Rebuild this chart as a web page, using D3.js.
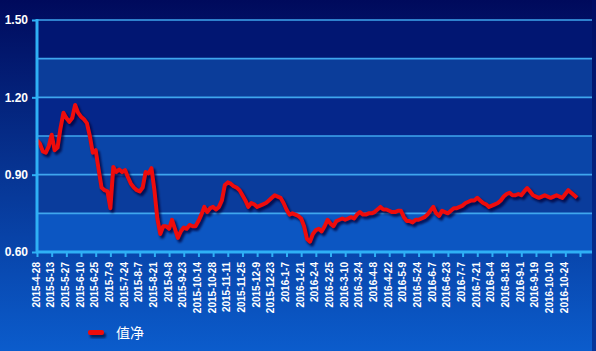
<!DOCTYPE html>
<html><head><meta charset="utf-8">
<script src="https://cdn.jsdelivr.net/npm/d3@7/dist/d3.min.js"></script>
<style>html,body{margin:0;padding:0;background:#00085a;}svg{display:block;}</style>
</head><body>
<svg id="chart" width="596" height="351"></svg>
<script>
// Tick labels (every 10 trading days)
const tickLabels = ["2015-4-28","2015-5-13","2015-5-27","2015-6-10","2015-6-25","2015-7-9","2015-7-24","2015-8-7","2015-8-21","2015-9-8","2015-9-23","2015-10-14","2015-10-28","2015-11-11","2015-11-25","2015-12-9","2015-12-23","2016-1-7","2016-1-21","2016-2-4","2016-2-25","2016-3-10","2016-3-24","2016-4-8","2016-4-22","2016-5-9","2016-5-24","2016-6-7","2016-6-23","2016-7-7","2016-7-21","2016-8-4","2016-8-18","2016-9-1","2016-9-19","2016-10-10","2016-10-24"];
// Net value, sampled every 2 trading days starting 2015-4-28
const navValues = [1.034,1.02,0.99,0.985,1.01,1.055,0.995,1.005,1.08,1.14,1.12,1.105,1.12,1.17,1.14,1.125,1.115,1.10,1.05,0.985,0.995,0.92,0.85,0.84,0.835,0.77,0.93,0.91,0.92,0.91,0.918,0.89,0.865,0.85,0.84,0.835,0.85,0.91,0.905,0.925,0.84,0.73,0.67,0.70,0.70,0.69,0.725,0.69,0.655,0.68,0.695,0.69,0.705,0.70,0.70,0.72,0.745,0.775,0.755,0.77,0.775,0.765,0.775,0.80,0.86,0.87,0.865,0.855,0.85,0.84,0.82,0.80,0.775,0.79,0.785,0.775,0.78,0.785,0.79,0.80,0.81,0.82,0.815,0.81,0.79,0.765,0.745,0.75,0.745,0.74,0.73,0.70,0.65,0.64,0.67,0.685,0.69,0.68,0.70,0.725,0.71,0.70,0.72,0.725,0.73,0.725,0.73,0.735,0.73,0.745,0.755,0.745,0.745,0.75,0.75,0.755,0.765,0.775,0.765,0.765,0.76,0.755,0.755,0.76,0.76,0.735,0.72,0.72,0.715,0.725,0.725,0.73,0.735,0.745,0.76,0.775,0.75,0.74,0.76,0.755,0.75,0.76,0.77,0.77,0.775,0.78,0.79,0.795,0.80,0.80,0.81,0.80,0.79,0.785,0.775,0.78,0.785,0.79,0.80,0.815,0.825,0.83,0.82,0.82,0.825,0.82,0.835,0.848,0.835,0.82,0.815,0.81,0.815,0.82,0.815,0.81,0.815,0.82,0.815,0.81,0.825,0.84,0.83,0.82,0.81];
const yTicks = [0.60, 0.90, 1.20, 1.50];
const yGrid = [0.60, 0.75, 0.90, 1.05, 1.20, 1.35, 1.50];
const seriesName = "值净";

(function () {
const svg = d3.select("#chart");
const W = 596, H = 351;
const pLeft = 37, pRight = 592, pTop = 20, pBottom = 252;

const defs = svg.append("defs");
const bg = defs.append("linearGradient").attr("id","bg").attr("x1",0).attr("y1",0).attr("x2",0).attr("y2",1);
bg.append("stop").attr("offset","0").attr("stop-color","#000a5c");
bg.append("stop").attr("offset","0.45").attr("stop-color","#06318e");
bg.append("stop").attr("offset","1").attr("stop-color","#0b5ccc");
const blur = defs.append("filter").attr("id","blur").attr("x","-10%").attr("y","-10%").attr("width","120%").attr("height","120%");
blur.append("feGaussianBlur").attr("stdDeviation",1.2);

svg.append("rect").attr("width",W).attr("height",H).attr("fill","url(#bg)");

const x = d3.scaleLinear().domain([0, 370]).range([pLeft, pLeft + 543]);
const y = d3.scaleLinear().domain([0.60, 1.50]).range([pBottom, pTop]);

// bands
const bandColors = ["#0c56c2","#0a3c9c","#0a45a8","#05268a","#0b3d9a","#011672"];
for (let i = 0; i < yGrid.length - 1; i++) {
  svg.append("rect").attr("x", pLeft).attr("width", pRight - pLeft)
    .attr("y", y(yGrid[i+1])).attr("height", y(yGrid[i]) - y(yGrid[i+1]))
    .attr("fill", bandColors[i]);
}
// grid
svg.append("g").selectAll("line").data(yGrid).join("line")
  .attr("x1", pLeft).attr("x2", pRight).attr("y1", d => y(d)).attr("y2", d => y(d))
  .attr("stroke", "#3fa6ee").attr("stroke-width", 1.6);

// right strip
svg.append("rect").attr("x", pRight).attr("y", 0).attr("width", W - pRight).attr("height", H).attr("fill","#00106a").attr("opacity",0.5);

// line
const pts = navValues.map((v, i) => [i * 2, v]);
const line = d3.line().x(d => x(d[0])).y(d => y(d[1]));
svg.append("path").datum(pts).attr("d", line).attr("fill","none")
  .attr("stroke","#000838").attr("stroke-opacity",0.75).attr("stroke-width",4.5)
  .attr("stroke-linejoin","round").attr("transform","translate(2,2.5)").attr("filter","url(#blur)");
svg.append("path").datum(pts).attr("d", line).attr("fill","none")
  .attr("stroke","#ee0c0c").attr("stroke-width",4).attr("stroke-linejoin","round");

// axes
const yAxis = d3.axisLeft(y).tickValues(yTicks).tickFormat(d3.format(".2f")).tickSize(5).tickPadding(4);
const gy = svg.append("g").attr("transform", `translate(${pLeft},0)`).call(yAxis);
gy.select(".domain").remove();
gy.selectAll(".tick line").attr("stroke","#2fb0f5").attr("stroke-width",2);
gy.selectAll(".tick text").attr("fill","#ffffff").attr("font-family","Liberation Sans, Arial, sans-serif")
  .attr("font-weight","bold").attr("font-size",12);

const xTickVals = tickLabels.map((d, i) => i * 10).concat([370]);
const xAxis = d3.axisBottom(x).tickValues(xTickVals)
  .tickFormat(d => tickLabels[d / 10] || "").tickSize(5).tickPadding(0);
const gx = svg.append("g").attr("transform", `translate(0,${pBottom})`).call(xAxis);
gx.select(".domain").remove();
gx.selectAll(".tick line").attr("stroke","#2fb0f5").attr("stroke-width",2);
gx.selectAll(".tick text").attr("fill","#ffffff").attr("font-family","Liberation Sans, Arial, sans-serif")
  .attr("font-weight","bold").attr("font-size",10)
  .attr("text-anchor","end").attr("transform","rotate(-90)")
  .attr("x", -10).attr("y", 0).attr("dy","0.2em");

// axis lines
svg.append("line").attr("x1", pLeft).attr("x2", pLeft).attr("y1", pTop - 1).attr("y2", pBottom + 1)
  .attr("stroke","#2fb0f5").attr("stroke-width",3);
svg.append("line").attr("x1", pLeft - 1).attr("x2", pRight).attr("y1", pBottom).attr("y2", pBottom)
  .attr("stroke","#2fb0f5").attr("stroke-width",3);

// legend
const lg = svg.append("g");
lg.append("rect").attr("x", 90).attr("y", 333).attr("width", 16).attr("height", 5).attr("rx",2)
  .attr("fill","#000838").attr("opacity",0.7).attr("filter","url(#blur)");
lg.append("rect").attr("x", 88).attr("y", 330).attr("width", 16).attr("height", 5).attr("rx",2).attr("fill","#ee0c0c");
lg.append("text").attr("x", 116).attr("y", 338).text(seriesName)
  .attr("fill","#ffffff").attr("font-family","Noto Sans CJK SC, sans-serif").attr("font-size",14);
})();
</script>
</body></html>
